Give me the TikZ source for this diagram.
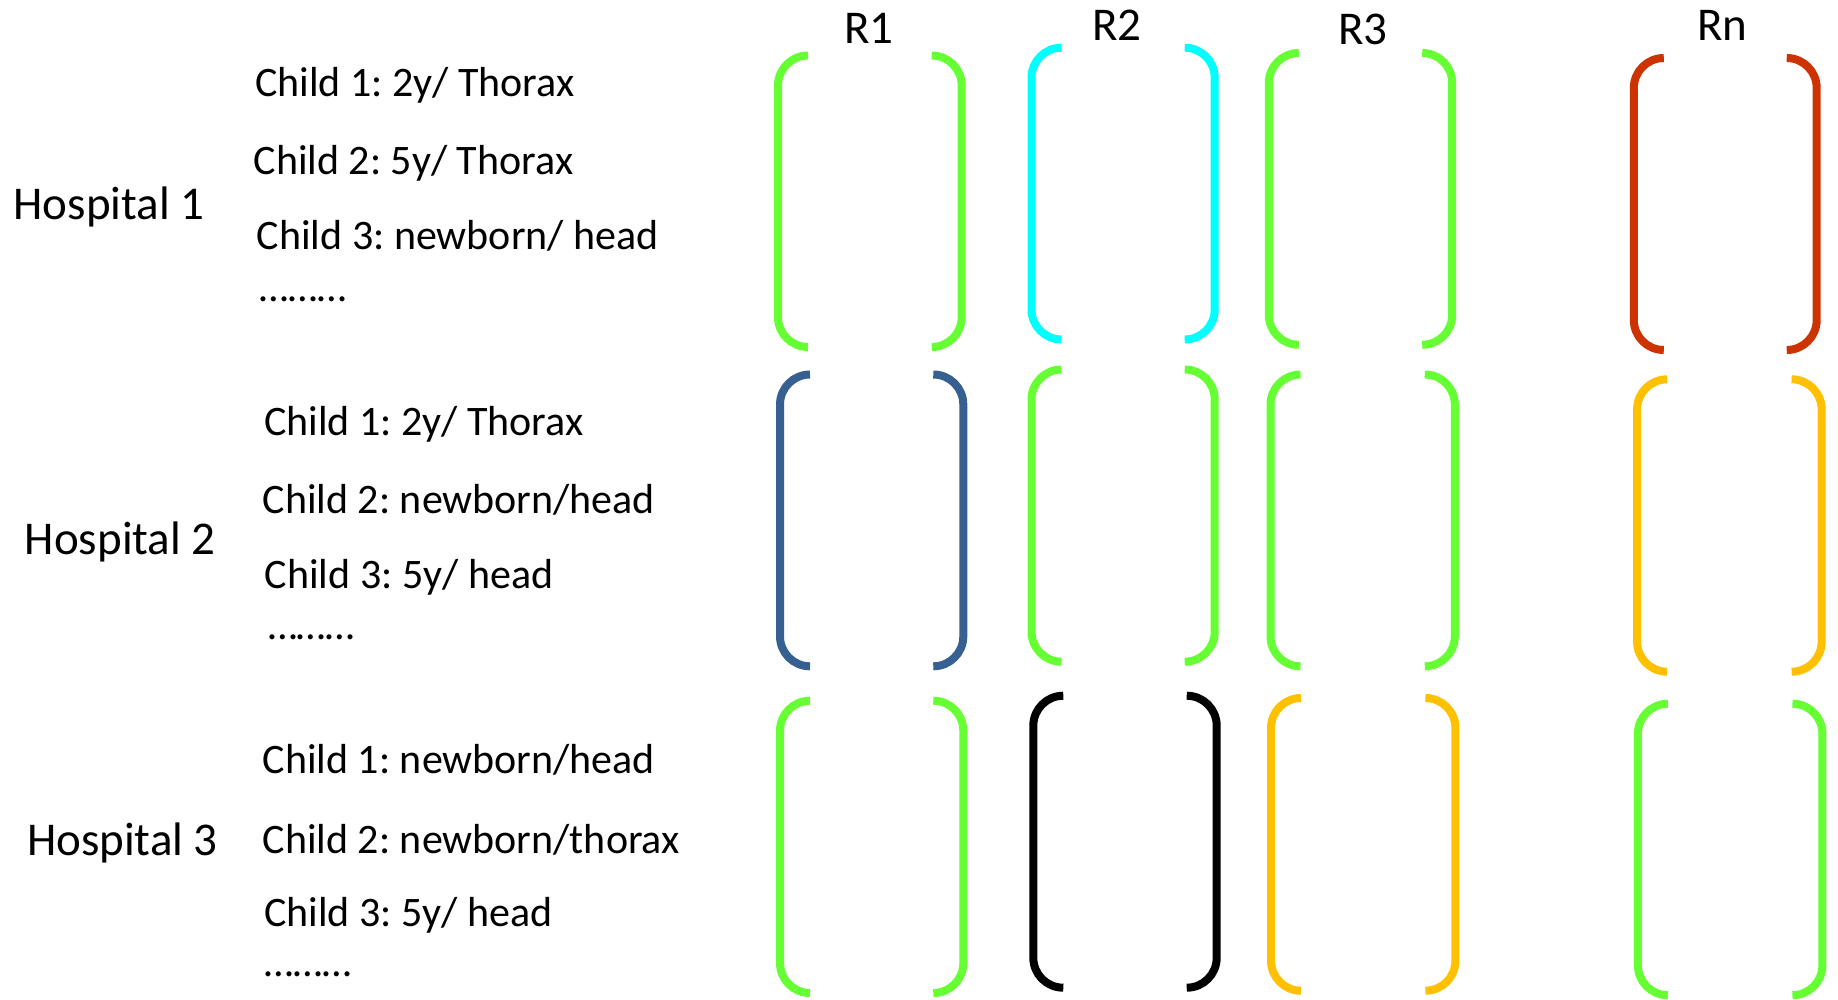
\documentclass[tikz,border=0pt]{standalone}
\usepackage{fontspec}
\setmainfont{Carlito}
\frenchspacing
\definecolor{brGreen}{HTML}{66FF33}
\definecolor{brCyan}{HTML}{00FFFF}
\definecolor{brRed}{HTML}{CC3300}
\definecolor{brBlue}{HTML}{376092}
\definecolor{brGold}{HTML}{FFC000}
% one pair of rounded brackets: colour, left x, right x, top y, bottom y
\newcommand\bracketpair[5]{%
  \draw[bracketline,#1,rounded corners=30pt]
    (#2+30,#4) -- (#2,#4) -- (#2,#5) -- (#2+30,#5);
  \draw[bracketline,#1,rounded corners=30pt]
    (#3-30,#4) -- (#3,#4) -- (#3,#5) -- (#3-30,#5);
}
\tikzset{
  bracketline/.style={line width=8pt},
  biglabel/.style={inner sep=0pt,font=\fontsize{47}{56}\selectfont},
  childtext/.style={inner sep=0pt,anchor=base west,font=\fontsize{42}{50}\selectfont},
}
\begin{document}
\begin{tikzpicture}[x=1pt,y=-1pt]
\useasboundingbox (0,0) rectangle (1838,999);

% column headings
\node[biglabel,anchor=base] (r1) at (869,43) {R1};
\node[biglabel,anchor=base] (r2) at (1116.7,40.7) {R2};
\node[biglabel,anchor=base] (r3) at (1362.8,44) {R3};
\node[biglabel,anchor=base] (rn) at (1722.5,40) {Rn};

% hospital 1
\node[biglabel,anchor=base west] (h1) at (13.5,219) {Hospital 1};
\node[childtext] (h1c1) at (254.8,96.7) {Child 1: 2y/ Thorax};
\node[childtext] (h1c2) at (253.5,174.3) {Child 2: 5y/ Thorax};
\node[childtext] (h1c3) at (256.6,249) {Child 3: newborn/ head};
\node[childtext] (h1d) at (259.3,301) {………};

% hospital 2
\node[biglabel,anchor=base west] (h2) at (24.7,554) {Hospital 2};
\node[childtext] (h2c1) at (263.8,435) {Child 1: 2y/ Thorax};
\node[childtext] (h2c2) at (262.5,513.3) {Child 2: newborn/head};
\node[childtext] (h2c3) at (264.7,588.3) {Child 3: 5y/ head};
\node[childtext] (h2d) at (267.8,639.3) {………};

% hospital 3
\node[biglabel,anchor=base west] (h3) at (26.9,855) {Hospital 3};
\node[childtext] (h3c1) at (262.5,773.3) {Child 1: newborn/head};
\node[childtext] (h3c2) at (262.5,853.3) {Child 2: newborn/thorax};
\node[childtext] (h3c3) at (263.8,926.7) {Child 3: 5y/ head};
\node[childtext] (h3d) at (264.7,976.7) {………};

% row 1 brackets
\bracketpair{brGreen}{778}{961.7}{55.5}{347}
\bracketpair{brCyan}{1031.5}{1214.7}{47.7}{339.5}
\bracketpair{brGreen}{1268.8}{1452.2}{53}{344.8}
\bracketpair{brRed}{1633.8}{1816.7}{58}{350}

% row 2 brackets
\bracketpair{brBlue}{780}{963.3}{374.5}{666.3}
\bracketpair{brGreen}{1031.5}{1214.7}{369.5}{661.7}
\bracketpair{brGreen}{1270.5}{1454.8}{374.5}{666.3}
\bracketpair{brGold}{1637.1}{1821.6}{379.3}{671.7}

% row 3 brackets
\bracketpair{brGreen}{780}{963.3}{700.7}{993}
\bracketpair{black}{1033.3}{1216.7}{695.7}{987.7}
\bracketpair{brGold}{1271}{1455.4}{698}{990.7}
\bracketpair{brGreen}{1637.9}{1822.4}{703.7}{995.2}
\end{tikzpicture}
\end{document}
